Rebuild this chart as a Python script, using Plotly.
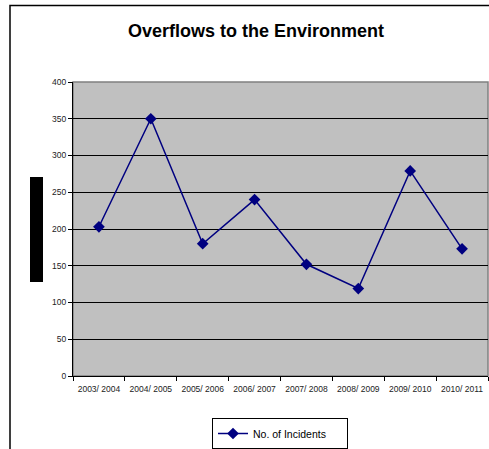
import plotly.graph_objects as go

# Dados
temporadas = ["2003/ 2004", "2004/ 2005", "2005/ 2006", "2006/ 2007",
              "2007/ 2008", "2008/ 2009", "2009/ 2010", "2010/ 2011"]
incidentes = [203, 350, 180, 240, 152, 119, 279, 173]
ticks_y = [0, 50, 100, 150, 200, 250, 300, 350, 400]

W, H = 489, 449
L, R, T, B = 73, 1, 82, 73
pw, ph = W - L - R, H - T - B


def px_x(x):
    # pixel da imagem -> coordenada paper
    return (x - L) / pw


def px_y(y):
    return (H - B - y) / ph


fig = go.Figure()

fig.add_trace(go.Scatter(
    x=temporadas,
    y=incidentes,
    mode="lines+markers",
    name="No. of Incidents",
    line=dict(color="#000080", width=1.5),
    marker=dict(symbol="diamond", size=9, color="#000080"),
))

fig.update_layout(
    width=W,
    height=H,
    margin=dict(l=L, r=R, t=T, b=B, autoexpand=False),
    paper_bgcolor="white",
    plot_bgcolor="#C0C0C0",
    font=dict(family="Liberation Sans, Arial", color="#222222"),
    title=dict(
        text="<b>Overflows to the Environment</b>",
        x=256 / W, xanchor="center",
        y=1 - 31 / H, yanchor="middle",
        font=dict(size=18, color="black"),
    ),
    showlegend=True,
    legend=dict(
        orientation="h",
        xref="container", yref="container",
        x=212 / W, xanchor="left",
        y=1 - 418 / H, yanchor="top",
        bordercolor="black", borderwidth=1,
        bgcolor="white",
        entrywidth=89,
        font=dict(size=10.5, color="black"),
    ),
    xaxis=dict(
        showline=True, linecolor="black", linewidth=1,
        ticks="outside", ticklen=4, tickcolor="black",
        tickson="boundaries",
        showgrid=False,
        tickfont=dict(size=8.5),
        ticklabelstandoff=5,
        range=[-0.5, 7.5],
    ),
    yaxis=dict(
        range=[0, 400],
        tickvals=ticks_y,
        showline=True, linecolor="black", linewidth=1,
        ticks="outside", ticklen=4, tickcolor="black",
        showgrid=True, gridcolor="black", gridwidth=1,
        zeroline=False,
        tickfont=dict(size=8.5),
    ),
    shapes=[
        # borda da área do gráfico
        dict(type="rect", xref="paper", yref="paper", x0=0, x1=1, y0=0, y1=1,
             line=dict(color="#808080", width=1.5), layer="below"),
        # moldura externa
        dict(type="rect", xref="paper", yref="paper",
             x0=px_x(10), x1=px_x(500), y0=px_y(460), y1=px_y(5.5),
             line=dict(color="black", width=1.5)),
        # retângulo preto à esquerda
        dict(type="rect", xref="paper", yref="paper",
             x0=px_x(30), x1=px_x(43), y0=px_y(282), y1=px_y(177),
             fillcolor="black", line=dict(width=0)),
    ],
)

# remove a margem padrão do body para a figura ocupar a janela toda
fig.write_html("out.html", config={"displayModeBar": False},
               post_script="document.body.style.margin='0';")
